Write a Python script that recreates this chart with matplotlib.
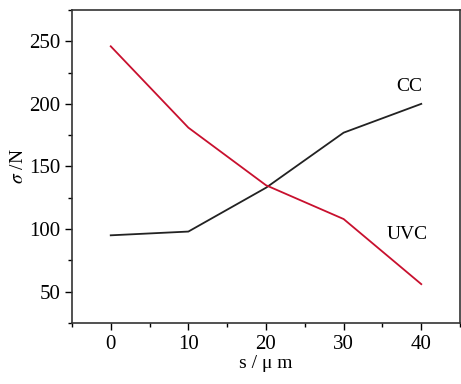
import matplotlib
matplotlib.use('Agg')
from matplotlib import pyplot as plt
from matplotlib.ticker import MultipleLocator

# data
s = [0, 10, 20, 30, 40]
cc = [95, 98, 133, 177, 200]
uvc = [246, 181, 135, 108, 56]

plt.rcParams['font.family'] = ['Liberation Serif', 'DejaVu Serif']
plt.rcParams['mathtext.fontset'] = 'stix'

fig = plt.figure(figsize=(4.61, 3.84), dpi=100)
ax = fig.add_axes([0.156, 0.159, 0.842, 0.815])

ax.plot(s, cc, color='#222222', lw=1.3)
ax.plot(s, uvc, color='#c8102e', lw=1.3)

ax.text(38.5, 214, 'CC', fontsize=14, ha='center', va='center')
ax.text(38.2, 96, 'UVC', fontsize=14, ha='center', va='center')

ax.set_xlim(-5, 45)
ax.set_ylim(25, 275)
ax.set_xticks(s)
ax.set_yticks([50, 100, 150, 200, 250])
ax.xaxis.set_minor_locator(MultipleLocator(5))
ax.yaxis.set_minor_locator(MultipleLocator(25))
ax.tick_params(which='major', direction='out', length=5, width=1, labelsize=15, colors='black')
ax.tick_params(which='minor', direction='out', length=3, width=1)
for sp in ax.spines.values():
    sp.set_linewidth(1.2)
    sp.set_color('#333333')

ax.set_xlabel('s / \u03bc m', fontsize=14, labelpad=1)
ax.set_ylabel('$\\sigma$ /N', fontsize=14, labelpad=1)

fig.savefig('out.png', dpi=100)
